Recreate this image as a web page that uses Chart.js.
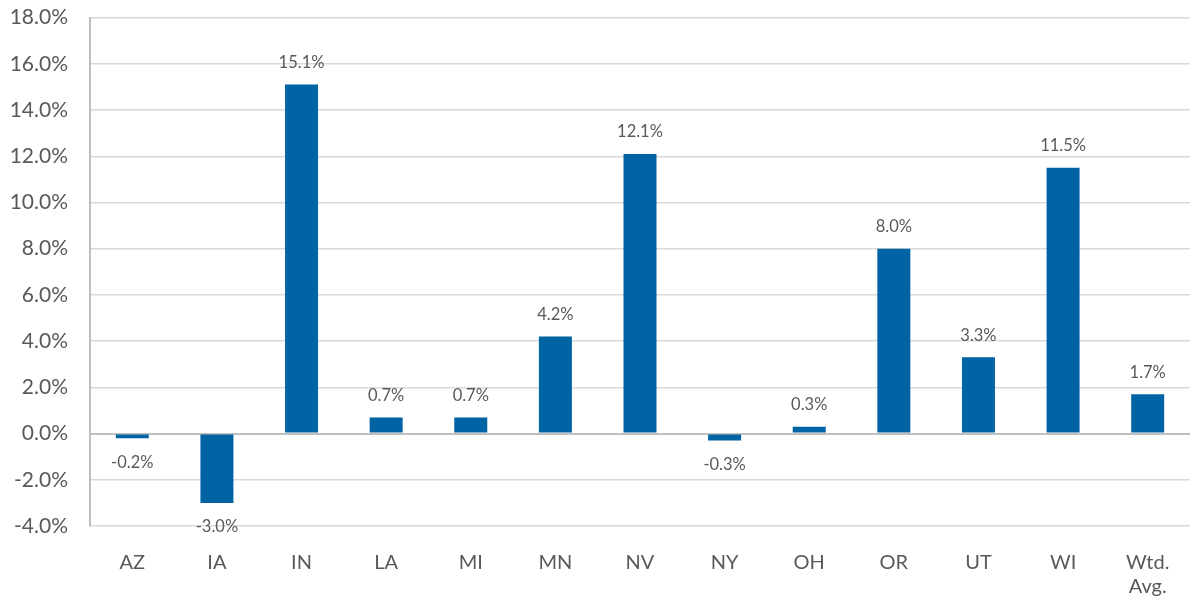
<!DOCTYPE html>
<html>
<head>
<meta charset="utf-8">
<script src="https://cdn.jsdelivr.net/npm/chart.js@4/dist/chart.umd.min.js"></script>
<style>
  html, body { margin: 0; padding: 0; background: #fff; overflow: hidden; }
  #wrap { width: 1190px; height: 618px; margin-top: -17px; }
</style>
</head>
<body>
<div id="wrap"><canvas id="c"></canvas></div>
<script>
const states = ["AZ", "IA", "IN", "LA", "MI", "MN", "NV", "NY", "OH", "OR", "UT", "WI", ["Wtd.", "Avg."]];
const changePct = [-0.2, -3.0, 15.1, 0.7, 0.7, 4.2, 12.1, -0.3, 0.3, 8.0, 3.3, 11.5, 1.7];
const yMin = -4, yMax = 18, yStep = 2;

// simple value labels: above positive bars, below negative ones
const barLabels = {
  id: "barLabels",
  afterDatasetsDraw(chart) {
    const ctx = chart.ctx;
    const meta = chart.getDatasetMeta(0);
    ctx.save();
    ctx.font = "16.5px Lato";
    ctx.fillStyle = "#595959";
    ctx.textAlign = "center";
    ctx.textBaseline = "middle";
    meta.data.forEach((bar, i) => {
      const v = changePct[i];
      const y = v >= 0 ? bar.y - 22 : bar.y + 24;
      ctx.fillText(v.toFixed(1) + "%", bar.x, y);
    });
    ctx.restore();
  }
};

new Chart(document.getElementById("c"), {
  type: "bar",
  data: {
    labels: states,
    datasets: [{
      data: changePct,
      backgroundColor: "#0063a3",
      barPercentage: 0.39,
      categoryPercentage: 1
    }]
  },
  options: {
    responsive: true,
    maintainAspectRatio: false,
    animation: false,
    layout: { autoPadding: false, padding: { top: 18, right: 0, left: 0, bottom: 0 } },
    plugins: { legend: false, title: false, subtitle: false, tooltip: { enabled: false } },
    scales: {
      x: {
        grid: { display: false },
        border: { display: false },
        ticks: { color: "#595959", font: { family: "Lato", size: 20 }, padding: 17, maxRotation: 0 },
        afterFit: (s) => { s.height = 75; }
      },
      y: {
        min: yMin,
        max: yMax,
        ticks: {
          stepSize: yStep,
          color: "#595959",
          font: { family: "Lato", size: 21 },
          padding: 22,
          callback: (v) => v.toFixed(1) + "%"
        },
        grid: {
          drawTicks: false,
          color: (c) => (c.tick && c.tick.value === 0 ? "#bfbfbf" : "#d9d9d9"),
          lineWidth: (c) => (c.tick && c.tick.value === 0 ? 2 : 1.5)
        },
        border: { color: "#bfbfbf", width: 2 },
        afterFit: (s) => { s.width = 90; }
      }
    }
  },
  plugins: [barLabels]
});
</script>
</body>
</html>
